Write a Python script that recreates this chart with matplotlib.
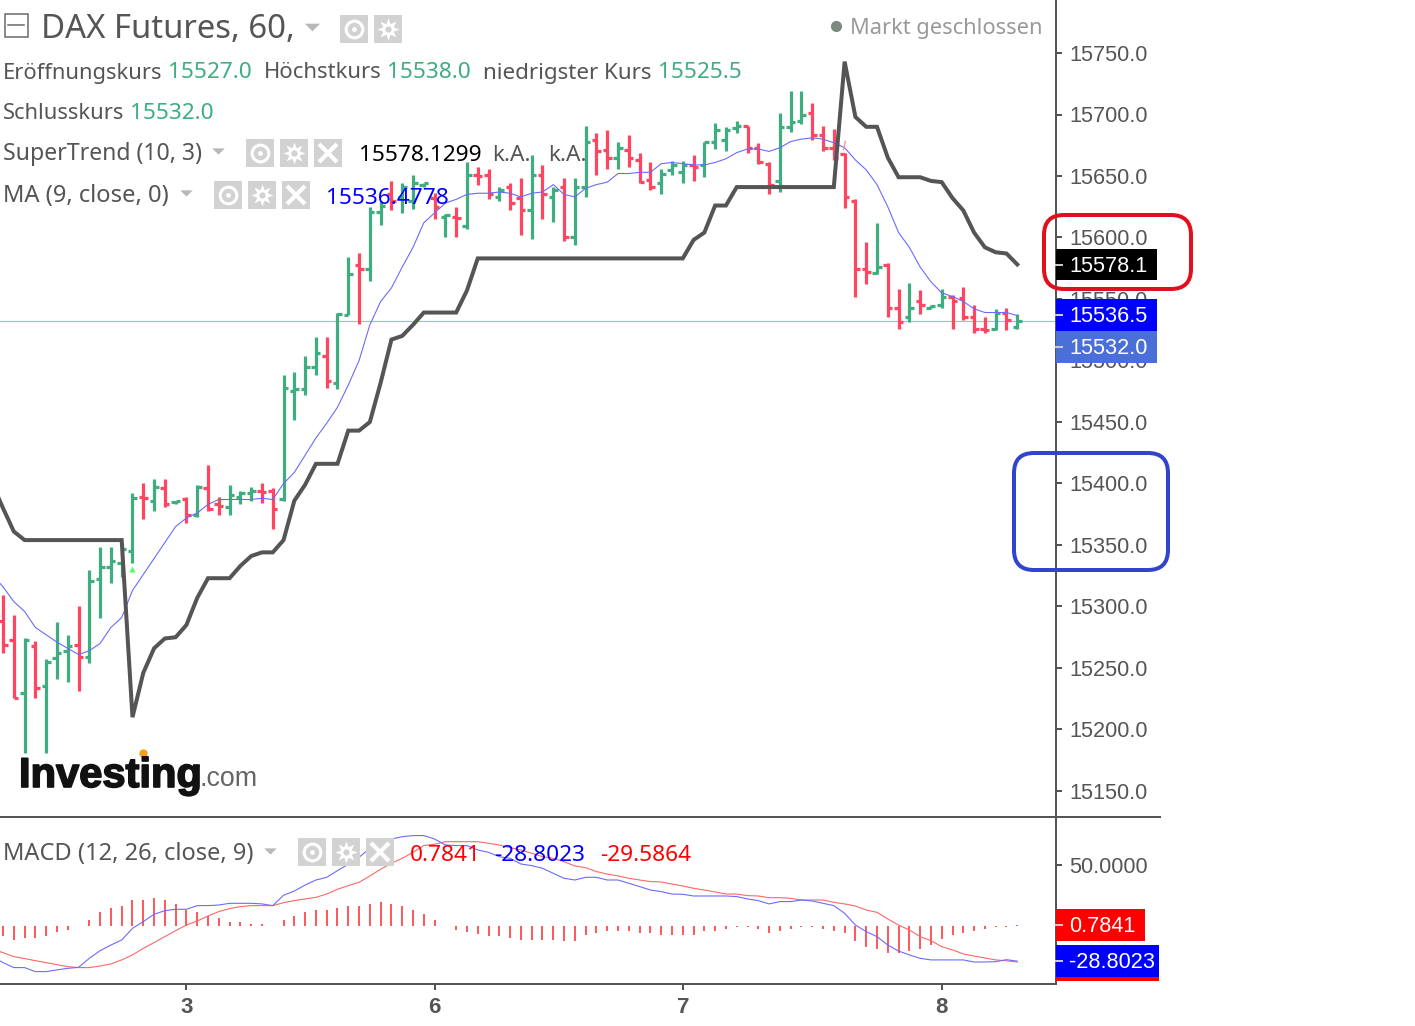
import numpy as np
import matplotlib
matplotlib.use("Agg")
import matplotlib.pyplot as plt
import matplotlib.patheffects as pe
from matplotlib.patches import Rectangle, FancyBboxPatch

# OHLC, one entry per hourly bar
opens = [15288, 15273, 15230, 15268, 15235, 15258, 15264, 15269, 15259, 15322,
         15332, 15335, 15345, 15389, 15386, 15396, 15385, 15387, 15374, 15396,
         15383, 15381, 15389, 15392, 15394, 15394, 15387, 15475, 15477, 15495,
         15504, 15482, 15537, 15578, 15574, 15621, 15635, 15633, 15630, 15643,
         15632, 15617, 15617, 15609, 15651, 15651, 15633, 15641, 15632, 15622,
         15651, 15633, 15641, 15600, 15641, 15679, 15671, 15665, 15671, 15663,
         15647, 15644, 15655, 15653, 15659, 15659, 15678, 15679, 15689, 15691,
         15673, 15660, 15646, 15690, 15695, 15701, 15683, 15673, 15668, 15630,
         15574, 15571, 15578, 15543, 15535, 15548, 15543, 15545, 15552, 15551,
         15535, 15526, 15526, 15539, 15527]
closes = [15269, 15226, 15273, 15234, 15255, 15262, 15268, 15259, 15321, 15332,
          15337, 15347, 15388, 15388, 15397, 15383, 15386, 15374, 15397, 15379,
          15382, 15391, 15392, 15394, 15393, 15379, 15478, 15477, 15495, 15506,
          15483, 15538, 15570, 15574, 15621, 15626, 15630, 15641, 15644, 15644,
          15625, 15618, 15616, 15651, 15650, 15635, 15639, 15628, 15622, 15651,
          15635, 15639, 15600, 15641, 15678, 15670, 15665, 15673, 15665, 15645,
          15641, 15652, 15659, 15659, 15657, 15678, 15687, 15687, 15691, 15673,
          15661, 15643, 15690, 15694, 15700, 15683, 15673, 15665, 15633, 15574,
          15572, 15576, 15543, 15531, 15543, 15545, 15544, 15552, 15548, 15535,
          15526, 15525, 15539, 15533, 15532]
highs = [15309, 15293, 15274, 15272, 15257, 15287, 15277, 15300, 15330, 15348,
         15348, 15352, 15392, 15400, 15404, 15404, 15386, 15389, 15399, 15415,
         15389, 15399, 15394, 15397, 15400, 15396, 15488, 15491, 15504, 15519,
         15519, 15539, 15584, 15587, 15625, 15630, 15646, 15644, 15651, 15644,
         15636, 15619, 15625, 15661, 15657, 15656, 15641, 15644, 15648, 15667,
         15659, 15641, 15648, 15648, 15691, 15685, 15687, 15678, 15683, 15669,
         15661, 15656, 15662, 15662, 15667, 15678, 15693, 15690, 15695, 15691,
         15677, 15661, 15701, 15719, 15719, 15709, 15691, 15688, 15669, 15631,
         15596, 15612, 15579, 15558, 15563, 15557, 15545, 15558, 15553, 15560,
         15545, 15535, 15542, 15543, 15538]
lows = [15262, 15226, 15181, 15226, 15181, 15241, 15239, 15231, 15254, 15291,
        15319, 15324, 15335, 15371, 15378, 15381, 15383, 15368, 15373, 15378,
        15374, 15374, 15383, 15386, 15384, 15363, 15386, 15452, 15472, 15488,
        15478, 15477, 15537, 15530, 15565, 15610, 15622, 15620, 15623, 15641,
        15615, 15600, 15600, 15607, 15643, 15631, 15630, 15622, 15602, 15599,
        15615, 15613, 15597, 15594, 15633, 15651, 15656, 15656, 15657, 15644,
        15639, 15635, 15651, 15644, 15646, 15649, 15672, 15670, 15685, 15669,
        15660, 15635, 15637, 15686, 15692, 15679, 15670, 15663, 15624, 15552,
        15562, 15570, 15535, 15526, 15531, 15538, 15543, 15543, 15526, 15533,
        15522, 15522, 15525, 15525, 15525.5]

# indicators start one bar left of the visible edge
supertrend = [15400, 15380, 15361, 15354, 15354, 15354, 15354, 15354, 15354, 15354,
              15354, 15354, 15354, 15210, 15246, 15266, 15274, 15275, 15285, 15307,
              15323, 15323, 15323, 15333, 15341, 15344, 15344, 15354, 15386, 15399,
              15416, 15416, 15416, 15443, 15443, 15450, 15482, 15517, 15520, 15529,
              15539, 15539, 15539, 15539, 15557, 15583, 15583, 15583, 15583, 15583,
              15583, 15583, 15583, 15583, 15583, 15583, 15583, 15583, 15583, 15583,
              15583, 15583, 15583, 15583, 15583, 15598, 15604, 15626, 15626, 15641,
              15641, 15641, 15641, 15641, 15641, 15641, 15641, 15641, 15641, 15743,
              15698, 15690, 15690, 15665, 15649, 15649, 15649, 15646, 15645, 15632,
              15622, 15604, 15592, 15588, 15587, 15578.1]
ma9 = [15326, 15316, 15304, 15296, 15283, 15277, 15271, 15266, 15261, 15264,
       15270, 15283, 15291, 15313, 15326, 15339, 15352, 15365, 15372, 15376,
       15383, 15387, 15387, 15387, 15387, 15388, 15387, 15400, 15409, 15423,
       15437, 15449, 15462, 15480, 15500, 15529, 15548, 15559, 15576, 15592,
       15612, 15620, 15628, 15631, 15635, 15636, 15636, 15637, 15636, 15633,
       15636, 15637, 15643, 15635, 15633, 15640, 15643, 15645, 15652, 15652,
       15653, 15653, 15660, 15661, 15660, 15659, 15659, 15661, 15664, 15669,
       15672, 15672, 15670, 15673, 15678, 15680, 15681, 15680, 15677, 15673,
       15663, 15655, 15643, 15625, 15604, 15592, 15576, 15564, 15555, 15552,
       15548, 15542, 15539, 15539, 15539, 15536.5]

macd = [-25.1, -30.0, -34.1, -34.1, -37.4, -37.4, -36.0, -34.7, -33.9, -26.5,
        -20.2, -15.6, -11.5, -1.9, 3.6, 9.6, 12.6, 13.7, 13.7, 16.7,
        16.7, 17.2, 18.6, 18.6, 18.6, 18.1, 16.7, 25.2, 28.7, 33.6,
        37.7, 39.9, 45.4, 50.6, 56.3, 63.7, 67.2, 71.3, 73.2, 74.1,
        74.1, 71.3, 66.4, 65.9, 65.9, 62.3, 60.4, 56.8, 55.5, 50.8,
        49.5, 47.3, 43.2, 39.1, 37.7, 39.9, 39.9, 37.7, 37.7, 35.0,
        32.3, 29.5, 28.2, 26.2, 26.0, 24.6, 24.6, 24.6, 24.6, 24.1,
        22.2, 20.8, 18.1, 20.0, 20.0, 21.3, 20.5, 18.6, 16.7, 10.4,
        0.8, -4.6, -8.7, -15.6, -20.5, -23.7, -26.5, -27.8, -27.8, -27.8,
        -27.8, -29.5, -29.5, -29.2, -27.6, -28.8023]
signal = [-19.1, -21.8, -25.1, -26.7, -28.4, -30.0, -31.7, -33.3, -34.1, -34.1,
          -32.8, -31.1, -27.8, -23.7, -18.3, -13.6, -8.7, -3.8, 0.8, 4.1,
          8.2, 11.8, 14.2, 15.9, 16.7, 16.7, 16.7, 19.1, 20.8, 22.2,
          23.5, 26.2, 30.1, 33.1, 35.8, 41.0, 46.5, 51.4, 55.5, 60.4,
          65.9, 67.0, 69.1, 69.1, 69.1, 69.1, 67.8, 66.4, 64.2, 62.3,
          59.6, 56.8, 55.5, 52.7, 49.2, 47.8, 44.6, 42.6, 41.0, 39.1,
          37.7, 36.4, 36.1, 34.4, 32.8, 30.9, 29.5, 27.9, 26.2, 26.2,
          24.9, 24.6, 23.2, 23.2, 22.7, 21.3, 21.3, 21.3, 19.4, 18.1,
          16.4, 13.1, 11.2, 5.8, 0.8, -3.3, -8.7, -12.0, -16.9, -19.6,
          -22.9, -24.6, -26.2, -27.8, -28.5, -29.5864]
hist = [-8.2, -11.2, -9.6, -9.6, -7.9, -4.6, -3.0, 0, 4.9, 11.5,
        14.8, 16.4, 21.3, 21.3, 23.0, 21.3, 18.0, 13.0, 11.5, 8.2,
        6.6, 3.3, 3.3, 1.6, 1.6, 0, 4.9, 8.2, 11.5, 13.0,
        13.0, 14.8, 16.4, 16.4, 18.0, 19.7, 18.0, 16.4, 13.0, 9.8,
        4.9, 0, -3.3, -4.9, -6.6, -8.2, -8.2, -9.8, -11.5, -11.5,
        -11.5, -11.5, -12.3, -12.3, -7.7, -5.7, -4.1, -4.1, -4.1, -5.7,
        -5.7, -7.4, -7.4, -7.4, -7.4, -4.1, -4.1, -2.5, -0.5, -0.5,
        -2.5, -5.7, -4.1, -2.5, -0.6, -0.6, -2.5, -4.1, -5.7, -12.3,
        -17.2, -18.9, -22.0, -22.0, -20.5, -18.9, -15.6, -10.7, -7.4, -5.7,
        -4.1, -2.5, -0.6, -0.6, 0.7841]

price_ticks = [15150, 15200, 15250, 15300, 15350, 15400, 15450, 15500, 15550, 15600, 15650, 15700, 15750]
macd_ticks = [50]
day_ticks = [17, 40, 63, 87]
day_labels = ["3", "6", "7", "8"]

GREEN = "#3eae80"
RED = "#ff4560"
GREY = "#555555"
UI = "Noto Sans"
AXIS = "Liberation Sans"

W, H = 1415, 1026
AXW, MAIN_BOTTOM, SUB_BOTTOM = 1056, 817, 984
PX = 72 / 100  # one pixel in points
BAR_PX = 10.79

fig = plt.figure(figsize=(W / 100, H / 100), dpi=100, facecolor="white")
ax = fig.add_axes([0, 1 - MAIN_BOTTOM / H, AXW / W, MAIN_BOTTOM / H])
ax2 = fig.add_axes([0, 1 - SUB_BOTTOM / H, AXW / W, (SUB_BOTTOM - MAIN_BOTTOM) / H])

bars = np.arange(len(opens))
ind = np.arange(len(ma9)) - 1
xlim = (-3 / BAR_PX, (AXW - 3) / BAR_PX)


def price_of(y):
    return 15750 - (y - 53) * 600 / 738


opens, closes, highs, lows = map(np.array, (opens, closes, highs, lows))
colors = np.where(closes >= opens, GREEN, RED)

ax.axhline(price_of(320.5), color="#a3b8f2", lw=1.2 * PX, zorder=1)
ax.vlines(bars, lows, highs, colors=colors, lw=3.2 * PX, capstyle="butt", zorder=2)
ax.hlines(opens, bars - 0.42, bars, colors=colors, lw=3.2 * PX, capstyle="butt", zorder=2)
ax.hlines(closes, bars, bars + 0.42, colors=colors, lw=3.2 * PX, capstyle="butt", zorder=2)
ax.plot(ind, ma9, color="#6a6aff", lw=1.1 * PX, zorder=3)
ax.plot(ind, supertrend, color=GREY, lw=4 * PX, solid_joinstyle="miter", zorder=4)
# supertrend flip signals
ax.plot([12], [price_of(569)], marker="^", ms=4, color="#55ff55", mec="none", zorder=5)
ax.plot([77.9], [price_of(145)], marker="$I$", ms=7, color="#ff8a9a", mec="none", zorder=5)

ax.set_xlim(xlim)
ax.set_ylim(price_of(MAIN_BOTTOM), price_of(0))
ax.set_yticks(price_ticks)
ax.set_yticklabels(["%.1f" % t for t in price_ticks])
ax.set_xticks([])

hist = np.array(hist)
ax2.vlines(bars, 0, hist, colors="#ff5a5f", lw=2 * PX, capstyle="butt", zorder=2)
ax2.plot(ind, signal, color="#ff6666", lw=1.1 * PX, zorder=3)
ax2.plot(ind, macd, color="#6a6aff", lw=1.1 * PX, zorder=3)
ax2.set_xlim(xlim)
ax2.set_ylim(50 - (SUB_BOTTOM - 865) / 1.22, 50 + (865 - MAIN_BOTTOM) / 1.22)
ax2.set_yticks(macd_ticks)
ax2.set_yticklabels(["%.4f" % t for t in macd_ticks])
ax2.set_xticks(day_ticks)
ax2.set_xticklabels(day_labels, fontfamily=AXIS, fontsize=16, fontweight="bold", color=GREY)

for a in (ax, ax2):
    a.set_facecolor("none")
    a.yaxis.tick_right()
    for side in ("left", "top", "bottom"):
        a.spines[side].set_visible(False)
    a.spines["right"].set_color(GREY)
    a.spines["right"].set_linewidth(2 * PX)
    a.tick_params(axis="y", length=6 * PX, width=2 * PX, color=GREY, pad=7 * PX, labelcolor=GREY)
    for lab in a.get_yticklabels():
        lab.set_fontfamily(AXIS)
        lab.set_fontsize(15.6)
ax2.spines["bottom"].set_visible(True)
ax2.spines["bottom"].set_color(GREY)
ax2.spines["bottom"].set_linewidth(2 * PX)
ax2.tick_params(axis="x", length=6 * PX, width=2 * PX, color=GREY, pad=7 * PX)

# everything else is page furniture, placed in pixels
ov = fig.add_axes([0, 0, 1, 1], zorder=10)
ov.set_xlim(0, W)
ov.set_ylim(H, 0)
ov.axis("off")

ov.plot([0, 1160], [MAIN_BOTTOM, MAIN_BOTTOM], color=GREY, lw=2 * PX)


def txt(x, y, s, color=GREY, size=16.3, family=UI, **kw):
    return ov.text(x, y, s, color=color, fontsize=size, fontfamily=family, va="baseline", ha="left", **kw)


def dropdown(x, y, ms=9):
    ov.plot([x], [y], marker=[(-1, 0.5), (1, 0.5), (0, -0.5)], ms=ms, color="#b8b8b8", mec="none")


def icons(x0, y0, kinds):
    for n, kind in enumerate(kinds):
        x = x0 + n * 34
        ov.add_patch(Rectangle((x, y0), 28, 28, fc="#d2d2d2", ec="none"))
        cx, cy = x + 14, y0 + 14
        if kind == "eye":
            ov.plot([cx], [cy], marker="o", ms=12, mfc="#d2d2d2", mec="white", mew=2.2)
            ov.plot([cx], [cy], marker="o", ms=3.5, color="white", mec="none")
        elif kind == "gear":
            ov.plot([cx], [cy], marker=(8, 1, 0), ms=16, color="white", mec="none")
            ov.plot([cx], [cy], marker="o", ms=4.5, color="#d2d2d2", mec="none")
        else:
            ov.plot([cx], [cy], marker="x", ms=13, color="white", mew=3)


# header
ov.add_patch(Rectangle((4.5, 13.5), 23, 23, fc="none", ec="#666666", lw=1.5 * PX))
ov.plot([8, 24], [25, 25], color="#666666", lw=1.5 * PX)
txt(41, 38.5, "DAX Futures, 60,", size=23.7)
dropdown(312, 27, ms=11)
icons(340, 15, ["eye", "gear"])
ov.plot([836], [26], marker="o", ms=8, color="#7a8a80", mec="none")
txt(850, 34, "Markt geschlossen", color="#999999", size=15.7)

txt(3, 78.5, "Eröffnungskurs", size=15.8)
txt(168, 78.5, "15527.0", color=GREEN)
txt(264, 78.5, "Höchstkurs", size=15.9)
txt(387, 78.5, "15538.0", color=GREEN)
txt(483, 78.5, "niedrigster Kurs", size=16.1)
txt(658, 78.5, "15525.5", color=GREEN)
txt(3, 119, "Schlusskurs", size=15.8)
txt(130, 119, "15532.0", color=GREEN)

txt(3, 160, "SuperTrend (10, 3)", size=16.6)
dropdown(218, 151)
icons(246, 139, ["eye", "gear", "x"])
txt(359, 161, "15578.1299", color="black")
txt(492, 161, "k.A.")
txt(548, 161, "k.A.")

txt(3, 202, "MA (9, close, 0)", size=17.1)
dropdown(186, 193)
icons(214, 181, ["eye", "gear", "x"])
txt(326, 204, "15536.4778", color="#0000ff")

txt(3, 860, "MACD (12, 26, close, 9)", size=17)
dropdown(270, 851)
icons(298, 838, ["eye", "gear", "x"])
txt(410, 861, "0.7841", color="#ff0000")
txt(494, 861, "-28.8023", color="#0000ff")
txt(600, 861, "-29.5864", color="#ff0000")

# logo
logo = txt(19, 787, "Investing", color="#111111", size=30, family=AXIS, fontweight="bold")
logo.set_path_effects([pe.withStroke(linewidth=1.2, foreground="#111111")])
txt(200, 786, ".com", color="#666666", size=19.3, family=AXIS)
ov.plot([143], [753], marker="o", ms=6, color="#f7a11a", mec="none")

# price labels on the axis
labels = [(1157, 249, 280, "15578.1", "black"),
          (1157, 299, 331, "15536.5", "#0000ff"),
          (1157, 331, 363, "15532.0", "#4a6fd8"),
          (1145, 909, 941, "0.7841", "#ff0000"),
          (1159, 949, 981, "", "#ff0000"),
          (1159, 945, 977, "-28.8023", "#0000ff")]
for right, top, bottom, s, c in labels:
    ov.add_patch(Rectangle((AXW, top), right - AXW, bottom - top, fc=c, ec="none"))
    if s:
        mid = (top + bottom) / 2
        ov.plot([AXW, AXW + 6], [mid, mid], color="#c8c8c8", lw=2 * PX)
        ov.text(AXW + 13, mid + 2, s, color="white", fontsize=15.6, fontfamily=AXIS, va="center", ha="left")

# hand drawn callouts
ov.add_patch(FancyBboxPatch((1044, 215), 147, 74, boxstyle="round,pad=0,rounding_size=20",
                            fc="none", ec="#e0101f", lw=4 * PX))
ov.add_patch(FancyBboxPatch((1014, 453), 154, 117, boxstyle="round,pad=0,rounding_size=20",
                            fc="none", ec="#3344cc", lw=4 * PX))

fig.savefig("out.png", dpi=100)
